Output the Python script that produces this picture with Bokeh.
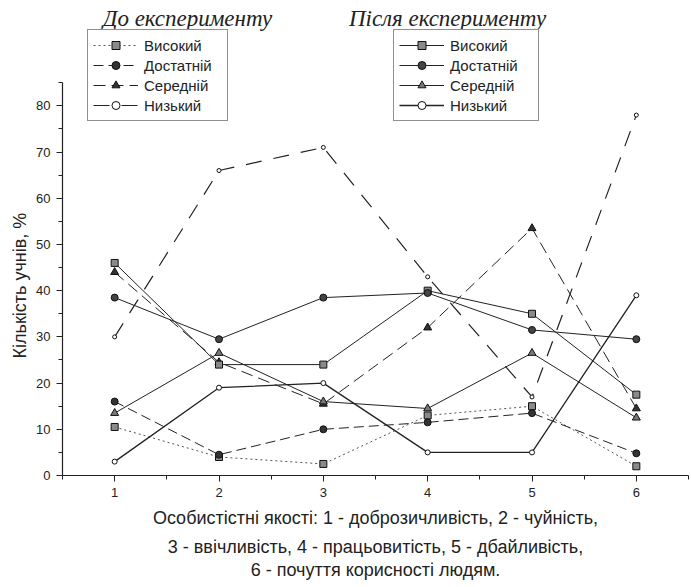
from bokeh.plotting import figure
from bokeh.models import Legend, LegendItem, Label, FixedTicker, Range1d, Title
from bokeh.embed import file_html
from bokeh.resources import INLINE

# ---- data ----
x = [1, 2, 3, 4, 5, 6]
levels = ["Високий", "Достатній", "Середній", "Низький"]

before_high = [10.5, 4.0, 2.5, 13.0, 15.0, 2.0]
before_suff = [16.0, 4.5, 10.0, 11.5, 13.5, 4.8]
before_mid = [44.0, 24.5, 15.5, 32.0, 53.5, 14.5]
before_low = [30.0, 66.0, 71.0, 43.0, 17.0, 78.0]

after_high = [46.0, 24.0, 24.0, 40.0, 35.0, 17.5]
after_suff = [38.5, 29.5, 38.5, 39.5, 31.5, 29.5]
after_mid = [13.5, 26.5, 16.0, 14.5, 26.5, 12.5]
after_low = [3.0, 19.0, 20.0, 5.0, 5.0, 39.0]

y_ticks = [0, 10, 20, 30, 40, 50, 60, 70, 80]
x_ticks = [1, 2, 3, 4, 5, 6]

title_before = "До експерименту"
title_after = "Після експерименту"
y_title = "Кількість учнів, %"
x_caption = [
    "Особистістні якості: 1 - доброзичливість, 2 - чуйність,",
    "3 - ввічливість, 4 - працьовитість, 5 - дбайливість,",
    "6 - почуття корисності людям.",
]

SANS = "Liberation Sans"
SERIF = "Liberation Serif"
INK = "#222222"

p = figure(width=691, height=587,
           x_range=Range1d(0.5, 6.5), y_range=Range1d(0, 102.8),
           output_backend="svg", toolbar_location=None,
           min_border_left=62, min_border_right=3,
           min_border_top=0, min_border_bottom=112)
p.outline_line_color = None
p.xgrid.visible = False
p.ygrid.visible = False
p.background_fill_color = "white"
p.border_fill_color = "white"

# axes
p.xaxis.ticker = FixedTicker(ticks=x_ticks, minor_ticks=[v + 0.5 for v in [0] + x_ticks])
p.yaxis.ticker = FixedTicker(ticks=y_ticks, minor_ticks=[v + 5 for v in y_ticks])
p.yaxis.bounds = (0, 85)
for ax in (p.xaxis, p.yaxis):
    ax.axis_line_color = INK
    ax.axis_line_width = 1.2
    ax.major_tick_line_color = INK
    ax.minor_tick_line_color = INK
    ax.major_tick_in = 0
    ax.minor_tick_in = 0
    ax.major_tick_out = 6
    ax.minor_tick_out = 4
    ax.major_label_text_font = SANS
    ax.major_label_text_font_size = "13px"
    ax.major_label_text_color = INK
p.xaxis.major_label_standoff = 6
p.yaxis.major_label_standoff = 6
# trailing no-break spaces shift the rotated label's centre down to the data area
p.yaxis.axis_label = y_title + "\u00a0" * 19
p.yaxis.axis_label_text_font = SANS
p.yaxis.axis_label_text_font_style = "normal"
p.yaxis.axis_label_text_font_size = "18px"
p.yaxis.axis_label_text_color = INK
p.yaxis.axis_label_standoff = 3

# ---- series ----
def series(ys, dash, marker, size, fill, lw=1.0, color=INK):
    lr = p.line(x, ys, line_color=color, line_width=lw, line_dash=dash)
    mr = p.scatter(x, ys, marker=marker, size=size, line_color="#111111",
                   fill_color=fill, line_width=1)
    return [lr, mr]

b_high = series(before_high, "2 3", "square", 7, "#8a8a8a", color="#555555")
b_suff = series(before_suff, "10 5", "circle", 7, "#333333")
b_mid = series(before_mid, "12 6", "triangle", 8, "#333333")
b_low = series(before_low, "16 12", "circle", 4, "white", lw=1.2)

a_high = series(after_high, "solid", "square", 7, "#8a8a8a")
a_suff = series(after_suff, "solid", "circle", 7, "#444444")
a_mid = series(after_mid, "solid", "triangle", 8, "#777777")
a_low = series(after_low, "solid", "circle", 5, "white", lw=1.3)

def make_legend(groups, loc, label_w):
    items = [LegendItem(label=lab, renderers=rs) for lab, rs in zip(levels, groups)]
    lg = Legend(items=items, location=loc)
    lg.label_text_font = SANS
    lg.label_text_font_size = "15px"
    lg.label_text_color = INK
    lg.glyph_width = 45
    lg.glyph_height = 20
    lg.label_height = 20
    lg.label_width = label_w
    lg.label_standoff = 6
    lg.spacing = 0
    lg.padding = 5
    lg.margin = 0
    lg.border_line_color = INK
    lg.border_line_width = 1
    lg.background_fill_color = "white"
    lg.background_fill_alpha = 1
    p.add_layout(lg, "center")

make_legend([b_high, b_suff, b_mid, b_low], (25, 354), 78)
make_legend([a_high, a_suff, a_mid, a_low], (331, 354), 83)

# titles above each legend
for txt, cx in ((title_before, 125), (title_after, 385)):
    p.add_layout(Label(x=cx, y=457, x_units="screen", y_units="screen", text=txt,
                       text_align="center", text_baseline="alphabetic",
                       text_font=SERIF, text_font_style="italic",
                       text_font_size="23px", text_color=INK))

# caption under the x axis
for i, line in enumerate(x_caption):
    p.add_layout(Title(text=line, align="center", text_font=SANS,
                       text_font_style="normal", text_font_size="18px",
                       text_color=INK, standoff=13 if i == 0 else 1), "below")

open("out.html", "w").write(file_html(p, INLINE))
